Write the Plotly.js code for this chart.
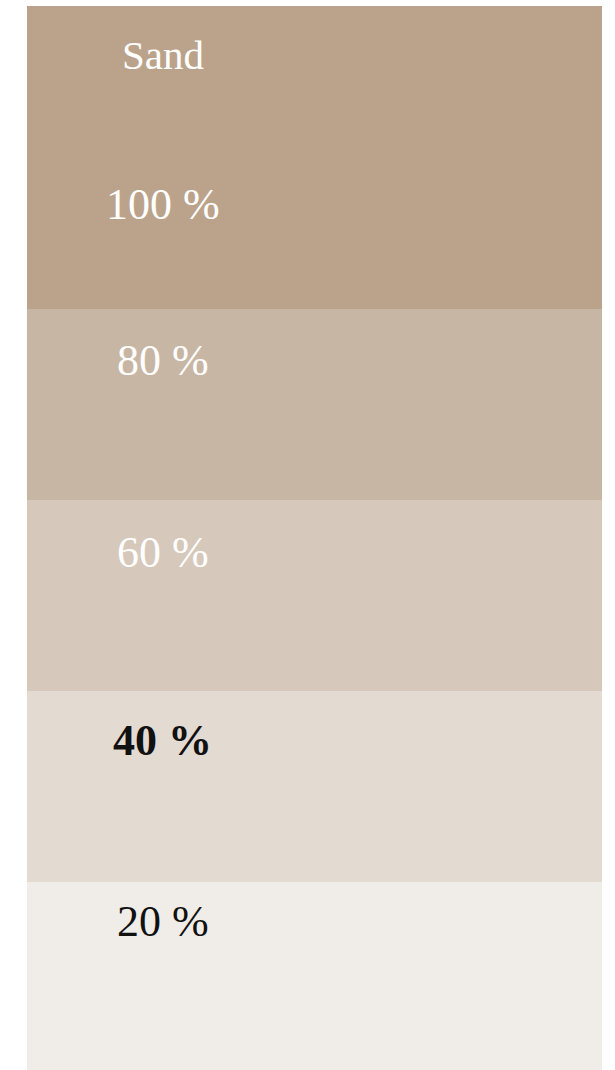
<!DOCTYPE html>
<html>
<head>
<meta charset="utf-8">
<script src="https://cdn.plot.ly/plotly-3.0.1.min.js"></script>
<style>
  html, body { margin: 0; padding: 0; background: #ffffff; }
  #chart { width: 615px; height: 1070px; }
</style>
</head>
<body>
<div id="chart"></div>
<script>
// ---- data ----
const colourName = 'Sand';
const tintLabels = ['100 %', '80 %', '60 %', '40 %', '20 %'];
const tintShares = [100, 80, 60, 40, 20];
// relative heights of the swatch segments (top segment also holds the name)
const segmentHeights = [1.59, 1, 1, 1, 1];

// ---- styles ----
const segmentColours = ['#BBA38B', '#C8B6A4', '#D6C8BB', '#E3DAD1', '#F0ECE7'];
const labelColours = ['#ffffff', '#ffffff', '#ffffff', '#111111', '#111111'];
const labelWeights = ['normal', 'normal', 'normal', 'bold', 'normal'];
// offset (in segment units) of each label centre from its segment top
const labelOffsets = [1.038, 0.268, 0.274, 0.26, 0.21];
const nameOffset = 0.257;

const traces = tintLabels.map((lab, i) => ({
  type: 'bar',
  x: [colourName],
  y: [segmentHeights[i]],
  width: [1],
  name: lab,
  customdata: [tintShares[i]],
  marker: { color: segmentColours[i], line: { width: 0 } },
  hoverinfo: 'skip',
  showlegend: false
}));

const annotations = [];
let segTop = 0;
segmentHeights.forEach((h, i) => {
  annotations.push({
    xref: 'paper', yref: 'y', x: 0.2365, y: segTop + labelOffsets[i],
    xanchor: 'center', yanchor: 'middle', showarrow: false,
    text: labelWeights[i] === 'bold' ? '<b>' + tintLabels[i] + '</b>' : tintLabels[i],
    font: { family: 'Liberation Serif, serif', size: 44, color: labelColours[i] }
  });
  segTop += h;
});
annotations.push({
  xref: 'paper', yref: 'y', x: 0.2365, y: nameOffset,
  xanchor: 'center', yanchor: 'middle', showarrow: false,
  text: colourName,
  font: { family: 'Liberation Serif, serif', size: 41, color: '#ffffff' }
});

const total = segmentHeights.reduce((a, b) => a + b, 0);

const layout = {
  width: 615, height: 1070, autosize: false,
  margin: { l: 27, r: 13, t: 6, b: 0, pad: 0 },
  paper_bgcolor: '#ffffff', plot_bgcolor: '#ffffff',
  barmode: 'stack', bargap: 0,
  xaxis: { visible: false, range: [-0.5, 0.5], fixedrange: true },
  yaxis: { visible: false, range: [total - 0.012, 0], fixedrange: true },
  annotations: annotations,
  showlegend: false
};

Plotly.newPlot('chart', traces, layout, { displayModeBar: false, staticPlot: true });
</script>
</body>
</html>
